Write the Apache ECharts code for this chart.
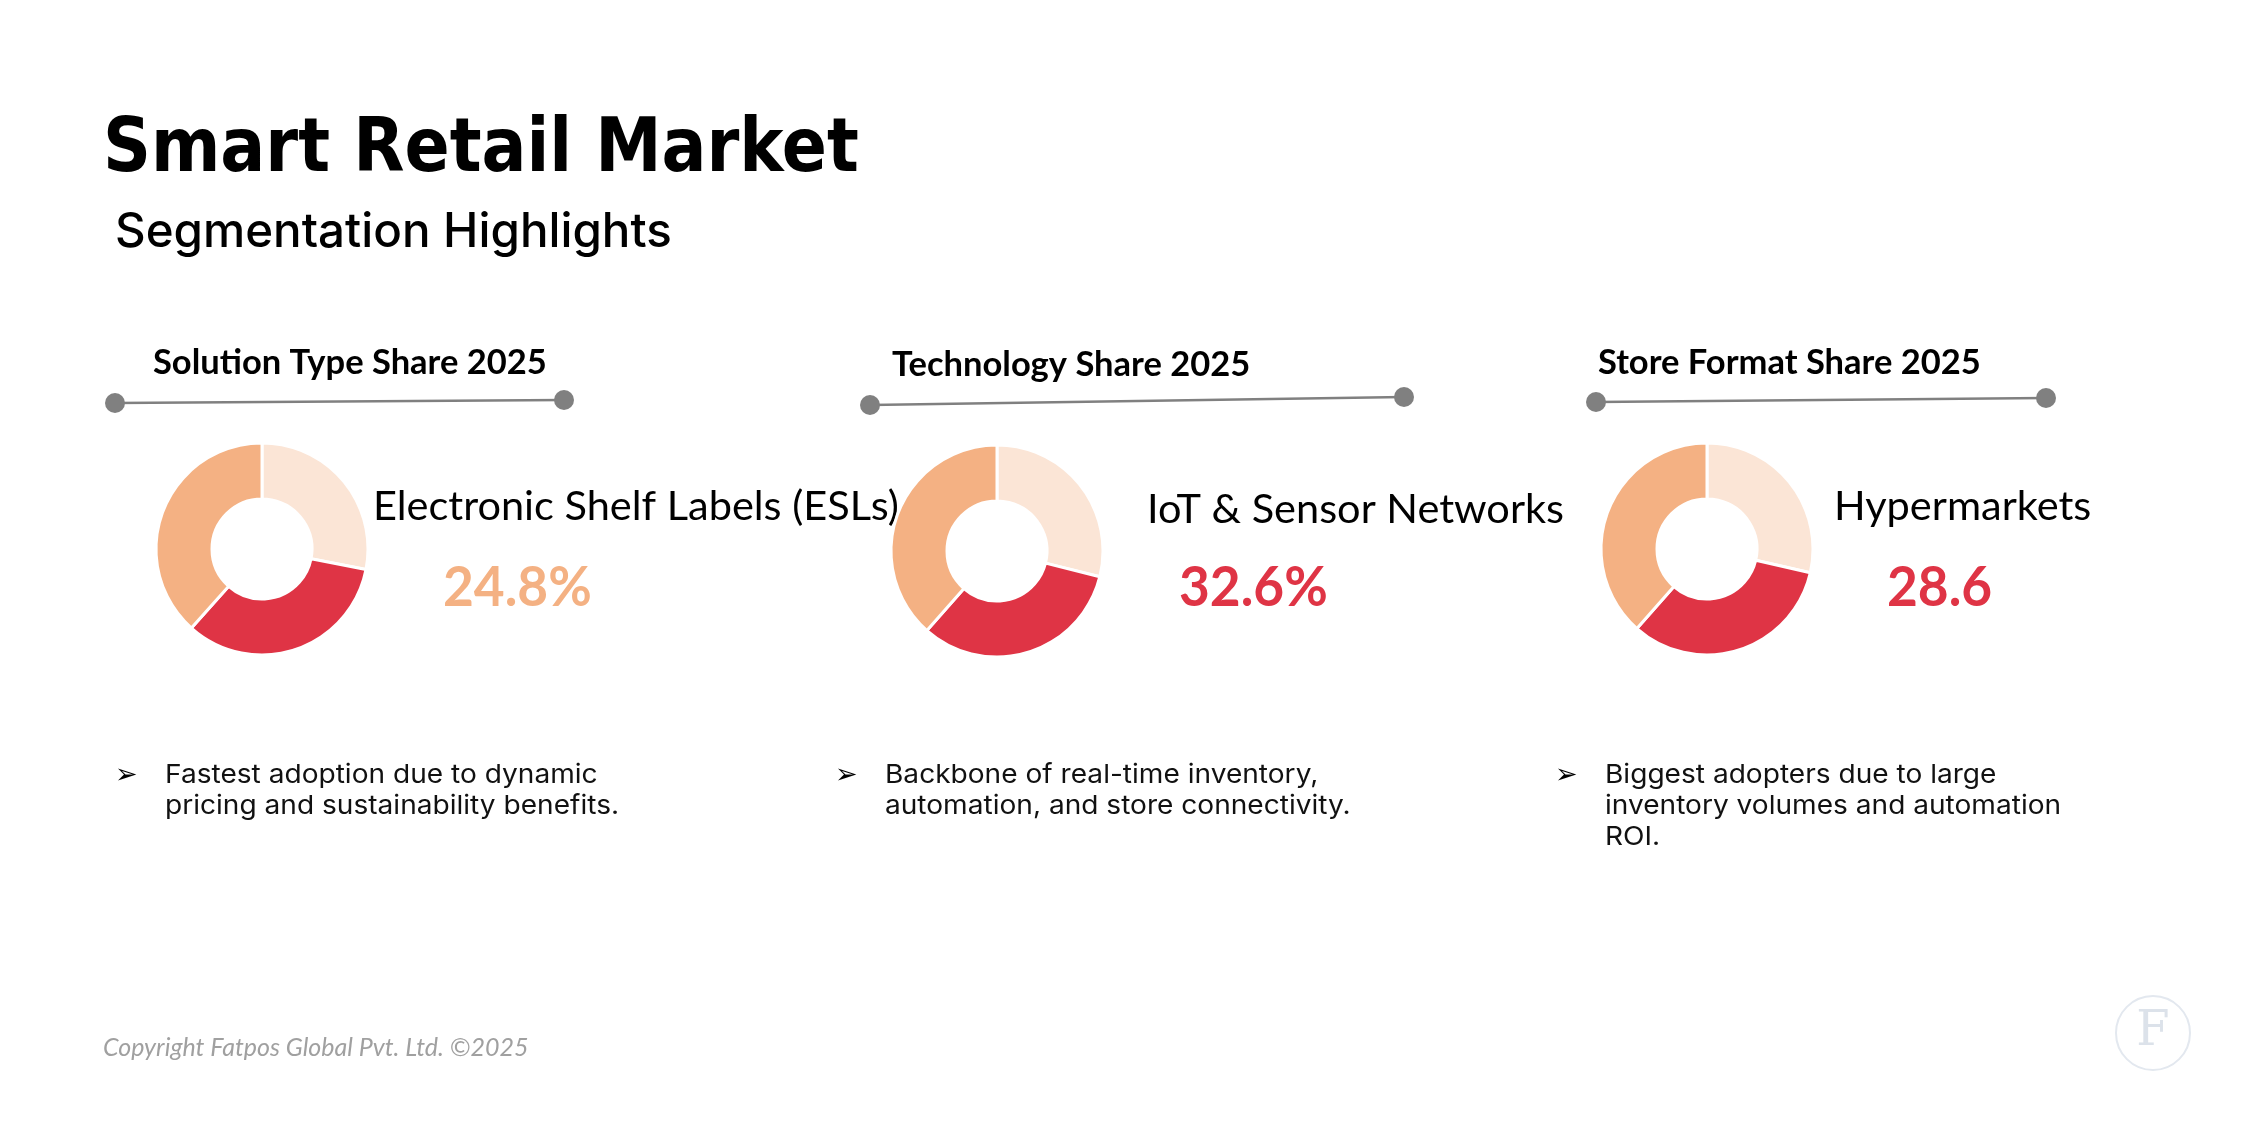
<!DOCTYPE html>
<html>
<head>
<meta charset="utf-8">
<script src="https://cdn.jsdelivr.net/npm/echarts/dist/echarts.min.js"></script>
<style>
  html, body { margin: 0; padding: 0; background: #fff; }
  #main { width: 2249px; height: 1126px; }
</style>
</head>
<body>
<div id="main"></div>
<script>
// 数据
var sliceNames = ['Segment 1', 'Segment 2', 'Segment 3'];
var solutionShare = [28.1, 33.5, 38.4];
var technologyShare = [28.9, 32.6, 38.5];
var storeShare = [28.6, 32.9, 38.5];

var panelTitles = ['Solution Type Share 2025', 'Technology Share 2025', 'Store Format Share 2025'];
var highlightNames = ['Electronic Shelf Labels (ESLs)', 'IoT & Sensor Networks', 'Hypermarkets'];
var highlightValues = ['24.8%', '32.6%', '28.6'];
var bulletLines = [
    ['Fastest adoption due to dynamic', 'pricing and sustainability benefits.'],
    ['Backbone of real-time inventory,', 'automation, and store connectivity.'],
    ['Biggest adopters due to large', 'inventory volumes and automation', 'ROI.']
];

var colors = ['#FBE5D6', '#DF3445', '#F4B183']; // light / red / orange
var valueColors = ['#F4B183', '#DF3445', '#DF3445'];

var chart = echarts.init(document.getElementById('main'));

// layout of the three panels
var centers = [[262, 549], [997, 551], [1707, 549]];
var titleX = [153, 892, 1598];
var titleY = [373, 375, 373];
var lines = [[115, 403, 564, 400], [870, 405, 1404, 397], [1596, 402, 2046, 398]];
var nameX = [373, 1147, 1834];
var nameY = [519, 522, 519];
var valueX = [443, 1179, 1887];
var bulletX = [115, 835, 1555];

// text with baseline y (zrender draws from the middle)
function txt(x, baseline, text, size, opts) {
    opts = opts || {};
    return {
        type: 'text',
        x: x,
        y: baseline - size * 0.3,
        scaleX: opts.scaleX || 1,
        silent: true,
        style: {
            text: text,
            fontFamily: opts.family || 'Lato',
            fontSize: size,
            fontWeight: opts.weight || 'normal',
            fontStyle: opts.style || 'normal',
            fill: opts.color || '#000',
            verticalAlign: 'middle',
            align: 'left'
        }
    };
}

var shares = [solutionShare, technologyShare, storeShare];
var series = [];
var graphics = [];

shares.forEach(function (vals, i) {
    series.push({
        type: 'pie',
        center: centers[i],
        radius: [50, 106],
        startAngle: 90,
        clockwise: true,
        silent: true,
        label: { show: false },
        labelLine: { show: false },
        itemStyle: { borderColor: '#fff', borderWidth: 3 },
        data: vals.map(function (v, k) {
            return { name: sliceNames[k], value: v, itemStyle: { color: colors[k] } };
        })
    });

    graphics.push(txt(titleX[i], titleY[i], panelTitles[i], 34.5, { weight: 'bold' }));

    var l = lines[i];
    graphics.push({
        type: 'line', silent: true,
        shape: { x1: l[0], y1: l[1], x2: l[2], y2: l[3] },
        style: { stroke: '#808080', lineWidth: 2.5 }
    });
    graphics.push({ type: 'circle', silent: true, shape: { cx: l[0], cy: l[1], r: 10 }, style: { fill: '#808080' } });
    graphics.push({ type: 'circle', silent: true, shape: { cx: l[2], cy: l[3], r: 10 }, style: { fill: '#808080' } });

    graphics.push(txt(nameX[i], nameY[i], highlightNames[i], 41.5));
    graphics.push(txt(valueX[i], 605, highlightValues[i], 56, { weight: 'bold', color: valueColors[i], scaleX: 0.95 }));

    graphics.push(txt(bulletX[i], 784, '\u27A2', 27, { family: 'DejaVu Sans' }));
    bulletLines[i].forEach(function (s, k) {
        graphics.push(txt(bulletX[i] + 50, 783 + k * 31, s, 26, { family: 'Inter', color: '#111', scaleX: 1.08 }));
    });
});

// header
graphics.push(txt(103, 174, 'Smart Retail Market', 74, { family: 'DejaVu Sans', weight: 'bold', scaleX: 0.9 }));
graphics.push(txt(115, 247, 'Segmentation Highlights', 47.5, { family: 'Inter', weight: 500 }));

// footer
graphics.push(txt(103, 1055, 'Copyright Fatpos Global Pvt. Ltd. \u00A92025', 25, { style: 'italic', color: '#A0A0A0' }));

// logo
graphics.push({
    type: 'circle', silent: true,
    shape: { cx: 2153, cy: 1033, r: 37 },
    style: { fill: 'none', stroke: '#E3E8EF', lineWidth: 2 }
});
graphics.push({
    type: 'text', silent: true, x: 2153, y: 1033,
    style: {
        text: 'F', fontFamily: 'DejaVu Serif', fontSize: 48, fill: '#DCE2EA',
        align: 'center', verticalAlign: 'middle'
    }
});

chart.setOption({
    animation: false,
    series: series,
    graphic: graphics
});
</script>
</body>
</html>
